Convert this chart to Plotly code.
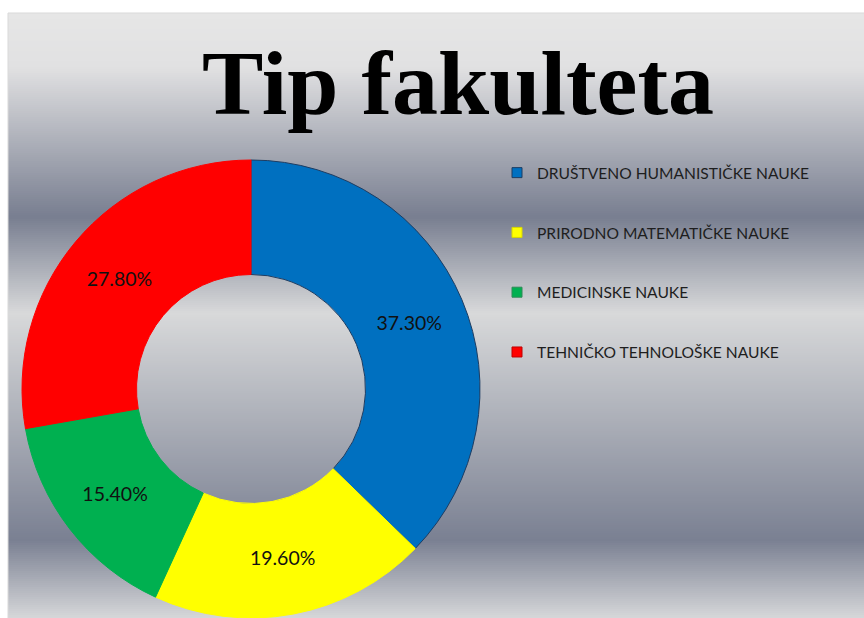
import plotly.graph_objects as go

# ---- data ----
categories = [
    "DRUŠTVENO HUMANISTIČKE NAUKE",
    "PRIRODNO MATEMATIČKE NAUKE",
    "MEDICINSKE NAUKE",
    "TEHNIČKO TEHNOLOŠKE NAUKE",
]
values = [37.3, 19.6, 15.4, 27.8]
labels_text = ["37.30%", "19.60%", "15.40%", "27.80%"]
colors = ["#0070C0", "#FFFF00", "#00B050", "#FF0000"]
edge_colors = ["#1d3d63", "#FFFF00", "#00B050", "#FF0000"]
legend_edges = ["#1d3d63", "#d8d800", "#2e8b57", "#c00000"]
title_text = "Tip fakulteta"

W, H = 864, 618

# background gradient stops (pixel y from top, colour)
grad_stops = [
    (13, (230, 230, 230)),
    (67, (225, 225, 226)),
    (217, (120, 126, 144)),
    (313, (216, 217, 218)),
    (540, (122, 128, 146)),
    (618, (214, 215, 217)),
]


def interp(y):
    for (y0, c0), (y1, c1) in zip(grad_stops[:-1], grad_stops[1:]):
        if y0 <= y <= y1:
            t = (y - y0) / (y1 - y0)
            return tuple(round(a + (b - a) * t) for a, b in zip(c0, c1))
    return grad_stops[-1][1]


shapes = []
left_px = 8
band = 2
y = grad_stops[0][0]
while y < H:
    y2 = min(y + band, H)
    c = interp((y + y2) / 2)
    shapes.append(dict(
        type="rect", xref="paper", yref="paper", layer="below",
        x0=left_px / W, x1=1, y0=1 - y2 / H, y1=1 - y / H,
        fillcolor="rgb(%d,%d,%d)" % c, line=dict(width=0),
    ))
    y = y2
shapes.append(dict(
    type="rect", xref="paper", yref="paper", layer="below",
    x0=left_px / W, x1=1 + 0.01, y0=-0.01, y1=1 - 13 / H,
    fillcolor="rgba(0,0,0,0)", line=dict(width=1, color="#d9d9d9"),
))

fig = go.Figure()

cx, cy, r = 251, 389, 229
fig.add_trace(go.Pie(
    labels=categories,
    values=values,
    text=labels_text,
    textinfo="text",
    textposition="inside",
    insidetextorientation="horizontal",
    textfont=dict(family="Lato", size=19.5, color="#111111"),
    hole=0.5,
    sort=False,
    direction="clockwise",
    rotation=0,
    marker=dict(colors=colors, line=dict(color=edge_colors, width=1)),
    domain=dict(x=[(cx - r) / W, (cx + r) / W], y=[0, (H - cy + r) / H]),
    showlegend=False,
    hoverinfo="label+text",
))

for cat, col, ec in zip(categories, colors, legend_edges):
    fig.add_trace(go.Scatter(
        x=[None], y=[None], mode="markers", name=cat, legendgroup=cat,
        marker=dict(symbol="square", size=10, color=col, line=dict(color=ec, width=1)),
        showlegend=True,
    ))

fig.add_annotation(
    text="<b>" + title_text + "</b>", xref="paper", yref="paper",
    x=458 / W, y=1 - 83 / H, xanchor="center", yanchor="middle",
    showarrow=False,
    font=dict(family="Liberation Serif", size=92, color="#000000"),
)

fig.update_layout(
    width=W, height=H,
    margin=dict(l=0, r=0, t=0, b=0),
    paper_bgcolor="#ffffff",
    plot_bgcolor="rgba(0,0,0,0)",
    xaxis=dict(visible=False),
    yaxis=dict(visible=False),
    shapes=shapes,
    showlegend=True,
    legend=dict(
        x=497 / W, y=1 - 156 / H, xanchor="left", yanchor="top",
        bgcolor="rgba(0,0,0,0)",
        font=dict(family="Lato", size=15.6, color="#1e1e1e"),
        tracegroupgap=36.5,
        itemclick=False, itemdoubleclick=False,
    ),
)

fig.write_html(
    "out.html",
    config={"displayModeBar": False},
    post_script="document.body.style.margin='0';document.body.style.overflow='hidden';",
)
